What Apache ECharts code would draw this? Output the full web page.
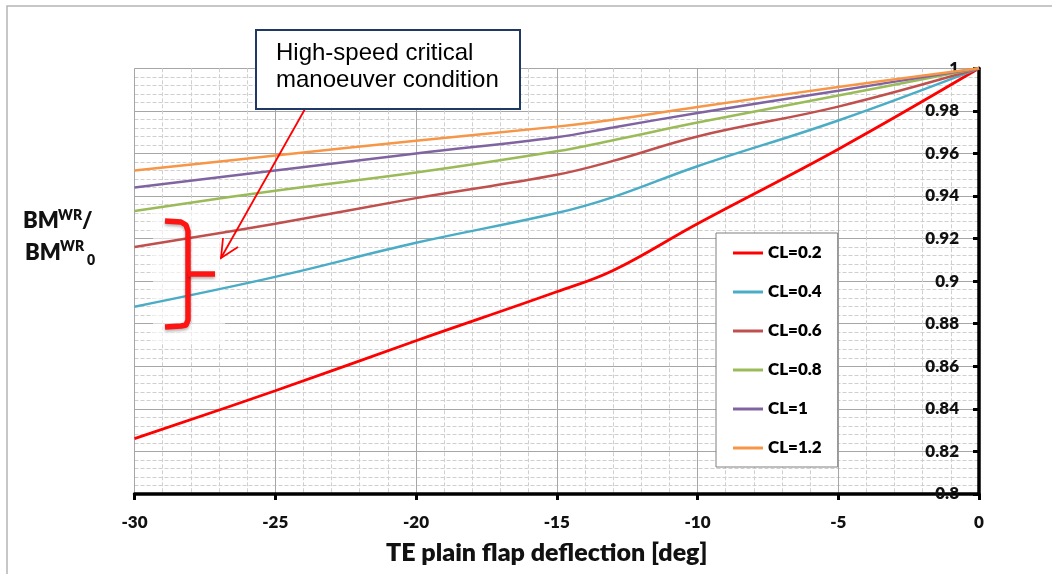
<!DOCTYPE html>
<html>
<head>
<meta charset="utf-8">
<script src="https://cdn.jsdelivr.net/npm/echarts@6/dist/echarts.min.js"></script>
<style>
  html, body { margin: 0; padding: 0; background: #ffffff; }
  #chart { width: 1052px; height: 574px; }
</style>
</head>
<body>
<div id="chart"></div>
<script>
// Flap deflection stations [deg]
const deflection = [-30, -25, -20, -15, -13, -10, -5, 0];

// Wing-root bending moment ratio BM_WR / BM_WR0 for each lift coefficient
const cl02 = [0.826, 0.8485, 0.872, 0.895, 0.905, 0.927, 0.962, 1];
const cl04 = [0.888, 0.902, 0.918, 0.932, 0.9395, 0.954, 0.9755, 1];
const cl06 = [0.916, 0.927, 0.939, 0.950, 0.9565, 0.968, 0.982, 1];
const cl08 = [0.933, 0.9425, 0.951, 0.961, 0.9662, 0.9745, 0.9872, 1];
const cl10 = [0.944, 0.952, 0.960, 0.9676, 0.9722, 0.979, 0.9895, 1];
const cl12 = [0.952, 0.959, 0.966, 0.9726, 0.9758, 0.9818, 0.9912, 1];

const seriesNames = ['CL=0.2', 'CL=0.4', 'CL=0.6', 'CL=0.8', 'CL=1', 'CL=1.2'];
const seriesValues = [cl02, cl04, cl06, cl08, cl10, cl12];
const lineColors = ['#ff0000', '#4bacc6', '#c0504d', '#9bbb59', '#8064a2', '#f79646'];

const bold = { fontFamily: 'Lato', fontWeight: 800, color: '#111' };

const chart = echarts.init(document.getElementById('chart'), null, { renderer: 'canvas' });

const series = seriesNames.map((name, i) => ({
  name: name,
  type: 'line',
  data: deflection.map((x, k) => [x, seriesValues[i][k]]),
  showSymbol: false,
  symbol: 'none',
  smooth: 0.4,
  lineStyle: { color: lineColors[i], width: i === 0 ? 2.8 : 2.5 },
  itemStyle: { color: lineColors[i] },
  z: 3
}));

chart.setOption({
  animation: false,
  backgroundColor: '#ffffff',
  grid: { left: 134.5, right: 73, top: 68.3, bottom: 80 },
  xAxis: {
    type: 'value',
    min: -30, max: 0, interval: 5,
    axisLine: { show: true, onZero: false, lineStyle: { color: '#000', width: 3.5 } },
    axisTick: { show: true, length: 6, lineStyle: { color: '#000', width: 3 } },
    axisLabel: Object.assign({ fontSize: 17, margin: 20, showMinLabel: true, showMaxLabel: true }, bold),
    splitLine: { show: true, lineStyle: { color: '#a6a6a6', width: 1 } },
    minorTick: { show: false, splitNumber: 5 },
    minorSplitLine: { show: true, lineStyle: { color: '#cfcfcf', width: 1, type: 'dashed' } }
  },
  yAxis: {
    type: 'value',
    position: 'right',
    min: 0.8, max: 1, interval: 0.02,
    axisLine: { show: true, onZero: false, lineStyle: { color: '#000', width: 3.5 } },
    axisTick: { show: true, inside: true, length: 6, lineStyle: { color: '#000', width: 3 } },
    axisLabel: Object.assign({
      inside: true, fontSize: 17, margin: 20, showMinLabel: true, showMaxLabel: true,
      formatter: function (v) { return String(Math.round(v * 100) / 100); }
    }, bold),
    splitLine: { show: true, lineStyle: { color: '#a6a6a6', width: 1 } },
    minorTick: { show: false, splitNumber: 5 },
    minorSplitLine: { show: true, lineStyle: { color: '#cfcfcf', width: 1, type: 'dashed' } }
  },
  legend: {
    orient: 'vertical',
    left: 716, top: 233,
    padding: [11, 16, 10, 17],
    itemGap: 21,
    itemWidth: 30,
    itemHeight: 3,
    icon: 'rect',
    backgroundColor: '#ffffff',
    borderColor: '#7f7f7f',
    borderWidth: 1,
    textStyle: { fontFamily: 'Lato', fontWeight: 800, fontSize: 17, lineHeight: 18, color: '#000' },
    data: seriesNames,
    z: 10
  },
  series: series,
  graphic: [
    // chart frame
    { type: 'rect', silent: true, z: 0,
      shape: { x: 7, y: 6, width: 1200, height: 800 },
      style: { fill: 'none', stroke: '#b5b5b5', lineWidth: 1.5 } },
    // light backing behind the bracket
    { type: 'rect', silent: true, z: 1,
      shape: { x: 153, y: 212, width: 72, height: 130 },
      style: { fill: 'rgba(255,255,255,0.6)' } },
    // bracket marking the critical band
    { type: 'polyline', silent: true, z: 20,
      shape: { points: [[165, 221], [181, 222], [186, 225], [188, 231], [188, 320], [186, 325], [181, 326], [165, 327]] },
      style: { fill: 'none', stroke: '#ff1414', lineWidth: 5.5, lineJoin: 'round',
               shadowBlur: 3, shadowColor: 'rgba(0,0,0,0.3)', shadowOffsetY: 2 } },
    { type: 'line', silent: true, z: 20,
      shape: { x1: 188, y1: 274, x2: 215, y2: 274 },
      style: { stroke: '#ff1414', lineWidth: 5.5,
               shadowBlur: 3, shadowColor: 'rgba(0,0,0,0.3)', shadowOffsetY: 2 } },
    // callout arrow
    { type: 'line', silent: true, z: 20,
      shape: { x1: 305, y1: 109, x2: 221, y2: 258 },
      style: { stroke: '#ff0000', lineWidth: 1.8 } },
    { type: 'polyline', silent: true, z: 20,
      shape: { points: [[238, 247], [221, 258], [223, 238]] },
      style: { fill: 'none', stroke: '#ff0000', lineWidth: 1.8 } },
    // callout box
    { type: 'rect', silent: true, z: 20,
      shape: { x: 256, y: 30, width: 264, height: 79 },
      style: { fill: '#ffffff', stroke: '#1f3864', lineWidth: 2 } },
    { type: 'text', silent: true, z: 21, left: 276, top: 41,
      style: { text: 'High-speed critical', font: '24px "Liberation Sans"', fill: '#000' } },
    { type: 'text', silent: true, z: 21, left: 276, top: 68,
      style: { text: 'manoeuver condition', font: '24px "Liberation Sans"', fill: '#000' } },
    // y-axis title: BM^WR / BM^WR_0
    { type: 'text', silent: true, z: 21, left: 23, top: 210,
      style: { text: 'BM', font: '800 22px Lato', fill: '#111' } },
    { type: 'text', silent: true, z: 21, left: 58, top: 208,
      style: { text: 'WR', font: '800 14px Lato', fill: '#111' } },
    { type: 'text', silent: true, z: 21, left: 82, top: 210,
      style: { text: '/', font: '800 22px Lato', fill: '#111' } },
    { type: 'text', silent: true, z: 21, left: 25, top: 242,
      style: { text: 'BM', font: '800 22px Lato', fill: '#111' } },
    { type: 'text', silent: true, z: 21, left: 60, top: 239,
      style: { text: 'WR', font: '800 14px Lato', fill: '#111' } },
    { type: 'text', silent: true, z: 21, left: 87, top: 253,
      style: { text: '0', font: '800 14px Lato', fill: '#111' } },
    // x-axis title
    { type: 'text', silent: true, z: 21, left: 386, top: 540,
      style: { text: 'TE plain flap deflection [deg]', font: '800 25px Lato', fill: '#111' } }
  ]
});
</script>
</body>
</html>
